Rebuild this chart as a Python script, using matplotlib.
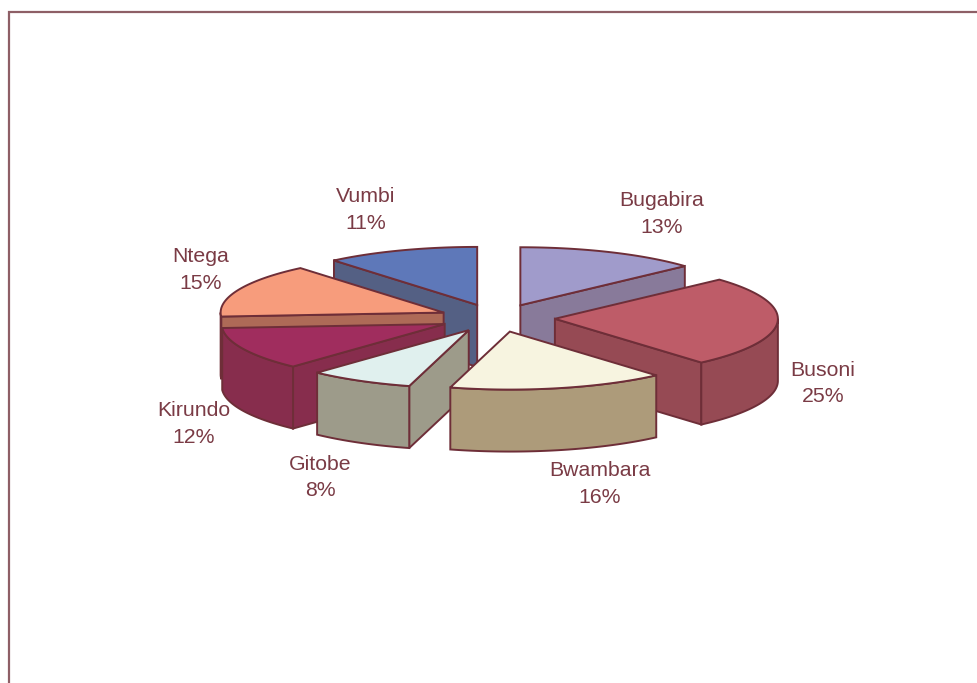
import numpy as np
import matplotlib
matplotlib.use('Agg')
import matplotlib.pyplot as plt
from matplotlib.patches import Polygon

# ==== Data ====
names = ['Bugabira', 'Busoni', 'Bwambara', 'Gitobe', 'Kirundo', 'Ntega', 'Vumbi']
# slice sizes, the labels show them rounded
shares = [13.2, 25.4, 15.7, 7.6, 12.0, 15.0, 11.1]
top_colors = ['#A09BCB', '#BE5C68', '#F7F4E0', '#E0F0EE', '#A02D5E', '#F79C7C', '#5E78B9']
side_colors = ['#887A9A', '#964A54', '#AD9B7A', '#9D9B8A', '#872D4D', '#AE6A57', '#546084']

# ==== Layout (pixels of the 978x683 picture) ====
CX, CY = 497, 318
RX, RY = 223, 58
DEPTH = 62
EXPLODE_X, EXPLODE_Y = 0.26, 0.24
EDGE = '#6E2E38'
label_x = [662, 823, 600, 320, 194, 201, 366]
label_y = [214, 383.5, 484, 477.5, 424, 270, 210]

plt.rcParams['font.family'] = ['Liberation Sans', 'DejaVu Sans']

fig = plt.figure(figsize=(9.78, 6.83), dpi=100)
ax = fig.add_axes([0, 0, 1, 1])
ax.set_xlim(0, 978)
ax.set_ylim(683, 0)
ax.axis('off')

# frame, only top and left fall inside the picture
ax.plot([978, 9, 9], [12, 12, 683], color='#8E5F66', lw=1.6, solid_joinstyle='miter')

shares_arr = np.array(shares, dtype=float)
edges = np.concatenate([[0], np.cumsum(shares_arr)]) / shares_arr.sum() * 2 * np.pi
mids = (edges[:-1] + edges[1:]) / 2


def rim(theta, ox, oy, dz=0):
    # theta runs clockwise from 12 o'clock
    return np.column_stack([ox + RX * np.sin(theta), oy - RY * np.cos(theta) + dz])


def face(pts, color):
    ax.add_patch(Polygon(pts, closed=True, facecolor=color, edgecolor=EDGE,
                         lw=1.4, joinstyle='miter'))


# back slices first
for i in np.argsort(-np.cos(mids)):
    a, b = edges[i], edges[i + 1]
    ox = CX + EXPLODE_X * RX * np.sin(mids[i])
    oy = CY - EXPLODE_Y * RY * np.cos(mids[i])
    apex = np.array([[ox, oy]])
    drop = np.array([[ox, oy + DEPTH]])

    # cut faces that look towards the viewer
    for ang, visible in ((a, np.sin(a) < 0), (b, np.sin(b) > 0)):
        if visible:
            p = rim(np.array([ang]), ox, oy)
            q = rim(np.array([ang]), ox, oy, DEPTH)
            face(np.vstack([apex, p, q, drop]), side_colors[i])

    # outer wall, front half only
    lo, hi = max(a, np.pi / 2), min(b, 3 * np.pi / 2)
    if hi > lo:
        t = np.linspace(lo, hi, 80)
        face(np.vstack([rim(t, ox, oy), rim(t[::-1], ox, oy, DEPTH)]), side_colors[i])

    t = np.linspace(a, b, 120)
    face(np.vstack([apex, rim(t, ox, oy)]), top_colors[i])

for name, share, x, y in zip(names, shares, label_x, label_y):
    ax.text(x, y, f'{name}\n{round(share)}%', ha='center', va='center', fontsize=15.3,
            color='#7A3B45', linespacing=1.5)

plt.savefig('out.png', dpi=100)
